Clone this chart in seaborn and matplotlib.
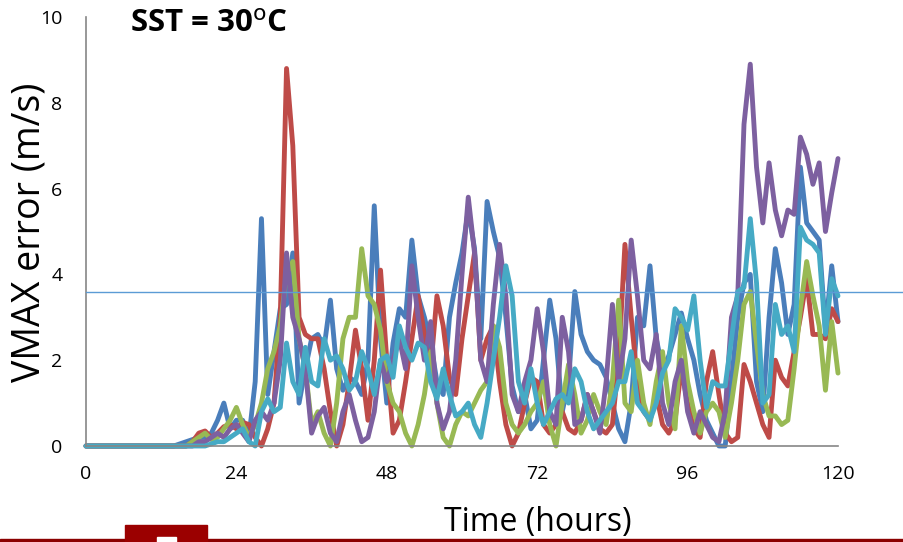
import numpy as np
import pandas as pd
import matplotlib
matplotlib.use("Agg")
import matplotlib.pyplot as plt
from matplotlib.patches import Rectangle
import seaborn as sns

hours = list(range(0, 121))

blue = [0]*15 + [0.05, 0.1, 0.15, 0.2, 0.2, 0.3, 0.6, 1.0, 0.4, 0.6, 0.6, 0.2, 1.5, 5.3, 1.2,
        2.2, 3.2, 3.3, 4.5, 1.0, 1.8, 2.5, 2.6, 2.3, 3.4, 1.8, 1.3, 1.6, 1.5, 1.2, 2.0,
        5.6, 2.5, 1.0, 2.4, 3.2, 3.0, 4.8, 3.5, 3.0, 2.4, 1.5, 1.2, 3.0, 3.8, 4.5, 5.5,
        4.6, 2.5, 5.7, 5.0, 4.4, 3.0, 1.4, 0.8, 1.2, 0.4, 0.6, 2.0, 3.4, 2.5, 0.8, 1.5,
        3.6, 2.6, 2.2, 2.0, 1.9, 1.6, 1.0, 0.4, 0.1, 1.0, 3.0, 2.8, 4.2, 2.5, 1.8, 2.1,
        2.6, 3.1, 2.5, 2.0, 1.2, 0.6, 0.3, 0.0, 0.0, 1.5, 3.0, 3.8, 4.0, 1.5, 0.8, 3.0,
        4.6, 3.8, 2.6, 3.3, 6.5, 5.2, 5.0, 4.8, 2.7, 4.2, 2.9]

red = [0]*17 + [0.1, 0.3, 0.35, 0.2, 0.3, 0.45, 0.5, 0.4, 0.55, 0.5, 0.2, 0.0, 0.4, 1.0,
       3.0, 8.8, 7.0, 3.0, 2.6, 2.5, 2.5, 1.8, 0.8, 0.0, 0.5, 1.5, 2.7, 1.8, 0.6, 2.0,
       4.1, 2.0, 0.3, 0.6, 1.5, 2.5, 3.5, 2.6, 1.8, 3.5, 2.8, 1.6, 1.2, 2.5, 3.5, 4.5,
       2.0, 2.5, 2.8, 1.5, 0.5, 0.0, 0.3, 1.0, 1.6, 1.5, 0.5, 0.3, 0.5, 0.8, 0.4, 0.3,
       0.6, 1.2, 0.8, 0.4, 0.3, 0.5, 2.0, 4.7, 3.0, 1.5, 0.8, 0.6, 1.2, 0.5, 0.3, 0.6,
       1.8, 1.0, 0.4, 0.2, 1.5, 2.2, 1.2, 0.3, 0.1, 0.2, 1.9, 1.5, 1.0, 0.5, 0.2, 2.0,
       1.6, 1.4, 2.2, 3.0, 3.9, 2.6, 2.6, 2.5, 3.2, 2.9]

green = [0]*17 + [0.1, 0.2, 0.3, 0.15, 0.2, 0.4, 0.6, 0.9, 0.5, 0.2, 0.5, 1.0, 1.8, 2.2,
         2.8, 4.0, 4.3, 2.5, 1.8, 0.5, 0.8, 0.3, 0.0, 1.0, 2.5, 3.0, 3.0, 4.6, 3.5, 3.3,
         2.7, 1.5, 1.0, 0.8, 0.3, 0.0, 0.5, 1.2, 2.2, 1.0, 0.2, 0.0, 0.5, 0.8, 0.7, 1.0,
         1.3, 1.5, 2.8, 2.3, 1.0, 0.5, 0.3, 0.5, 0.8, 1.0, 1.5, 0.5, 0.0, 1.0, 1.9, 1.2,
         0.3, 0.6, 1.2, 0.8, 0.5, 1.5, 3.4, 1.0, 0.8, 2.0, 1.0, 0.5, 1.5, 2.2, 1.0, 0.4,
         2.8, 1.5, 0.8, 0.3, 0.8, 1.0, 0.8, 0.2, 1.0, 2.0, 3.3, 3.6, 2.4, 1.2, 0.7, 0.7,
         0.5, 0.6, 1.8, 3.2, 4.3, 3.5, 2.8, 1.3, 2.9, 1.7]

purple = [0]*18 + [0.1, 0.1, 0.2, 0.3, 0.2, 0.4, 0.5, 0.3, 0.1, 0.6, 0.8, 0.6, 1.0, 2.0,
          4.5, 3.0, 2.5, 1.8, 0.3, 0.7, 0.9, 0.3, 0.1, 0.8, 1.2, 0.6, 0.1, 0.2, 0.8, 2.0,
          1.5, 2.0, 2.5, 1.8, 4.2, 3.0, 2.0, 2.9, 1.0, 0.4, 0.8, 2.0, 4.0, 5.8, 4.5, 2.0,
          1.5, 3.3, 4.7, 3.5, 1.2, 0.8, 1.5, 2.0, 3.2, 2.2, 0.8, 0.5, 3.0, 2.2, 0.5, 0.6,
          1.2, 0.8, 0.3, 1.5, 3.3, 1.5, 2.5, 4.8, 3.5, 2.0, 1.8, 2.6, 1.0, 0.5, 1.5, 2.0,
          0.8, 0.3, 0.8, 0.5, 0.2, 0.1, 0.8, 3.0, 3.5, 7.5, 8.9, 6.5, 5.2, 6.6, 5.5, 4.9,
          5.5, 5.4, 7.2, 6.8, 6.1, 6.6, 5.0, 5.9, 6.7]

cyan = [0]*20 + [0.05, 0.1, 0.1, 0.2, 0.3, 0.4, 0.1, 0.0, 0.8, 1.1, 0.8, 0.9, 2.4, 1.5,
        1.2, 2.3, 1.5, 1.4, 2.5, 2.0, 2.1, 1.8, 1.3, 1.5, 2.2, 1.8, 1.2, 2.0, 2.1, 1.6,
        2.8, 2.3, 2.0, 2.4, 2.3, 1.5, 1.1, 1.8, 1.2, 0.7, 0.8, 1.0, 0.5, 0.2, 1.0, 2.0,
        3.0, 4.2, 3.5, 1.5, 1.0, 1.8, 1.0, 0.5, 0.8, 1.1, 1.2, 1.0, 1.8, 1.5, 0.8, 0.4,
        0.6, 0.8, 1.0, 1.5, 1.5, 2.2, 1.0, 0.8, 0.6, 1.0, 1.7, 2.0, 3.2, 3.0, 2.7, 3.5,
        2.0, 0.9, 1.5, 1.4, 1.4, 2.5, 3.6, 3.7, 5.3, 3.8, 1.0, 1.2, 3.3, 2.6, 2.8, 2.2,
        5.1, 4.8, 4.7, 4.5, 2.6, 3.9, 3.5]

series_names = ["run1", "run2", "run3", "run4", "run5"]
series_values = [blue, red, green, purple, cyan]
colors = ["#4A7EBB", "#BE4B48", "#98B954", "#7D60A0", "#46AAC5"]

threshold = 3.6
x_ticks = [0, 24, 48, 72, 96, 120]
y_ticks = [0, 2, 4, 6, 8, 10]

frames = []
for name, vals in zip(series_names, series_values):
    frames.append(pd.DataFrame({"t": hours, "v": vals, "series": name}))
df = pd.concat(frames, ignore_index=True)

sns.set_style("white")
plt.rcParams["font.family"] = ["Open Sans", "DejaVu Sans"]

fig = plt.figure(figsize=(9.04, 5.42), dpi=100)
ax = fig.add_axes([86/904, 1-446/542, (838-86)/904, (446-17)/542])

sns.lineplot(data=df, x="t", y="v", hue="series", palette=dict(zip(series_names, colors)),
             legend=False, linewidth=3.5, ax=ax, solid_joinstyle="round",
             solid_capstyle="round", clip_on=False)

ax.axhline(threshold, xmin=0, xmax=(904-86)/(838-86), color="#5B9BD5", lw=1.0,
           clip_on=False, zorder=5)

ax.set_xlim(0, 120)
ax.set_ylim(0, 10)
ax.set_xticks(x_ticks)
ax.set_xticks(np.arange(0, 120.01, 4.8), minor=True)
ax.set_yticks(y_ticks)
ax.set_xticklabels([str(v) for v in x_ticks])
ax.set_yticklabels([str(v) for v in y_ticks])
ax.tick_params(axis="both", which="both", direction="out", length=6, width=1,
               color="#868686", labelsize=14, labelcolor="black")
ax.tick_params(axis="y", which="major", pad=11)
ax.tick_params(axis="x", which="major", pad=8)
ax.set_xlabel("")
ax.set_ylabel("")
for s in ["top", "right"]:
    ax.spines[s].set_visible(False)
for s in ["left", "bottom"]:
    ax.spines[s].set_color("#868686")
    ax.spines[s].set_linewidth(1.2)

fig.text(30/904, 1-232/542, "VMAX error (m/s)", rotation=90, ha="center", va="center",
         fontsize=27, color="black")
fig.text(538/904, 1-522/542, "Time (hours)", ha="center", va="center", fontsize=23,
         color="black")
fig.text(130/904, 1-24/542, r"SST = 30$^{\mathrm{o}}$C", ha="left", va="center",
         fontsize=22.5, fontweight="bold", color="black")

# slide decorations at bottom
fig.patches.append(Rectangle((0, 0), 1, 3/542, transform=fig.transFigure,
                             color="#8B0000", zorder=10))
fig.patches.append(Rectangle((125/904, 0), (207-125)/904, 17/542, transform=fig.transFigure,
                             color="#9B0000", zorder=10))
fig.patches.append(Rectangle((157/904, 0), (176-157)/904, 5/542, transform=fig.transFigure,
                             color="white", zorder=11))

fig.savefig("out.png", dpi=100)
